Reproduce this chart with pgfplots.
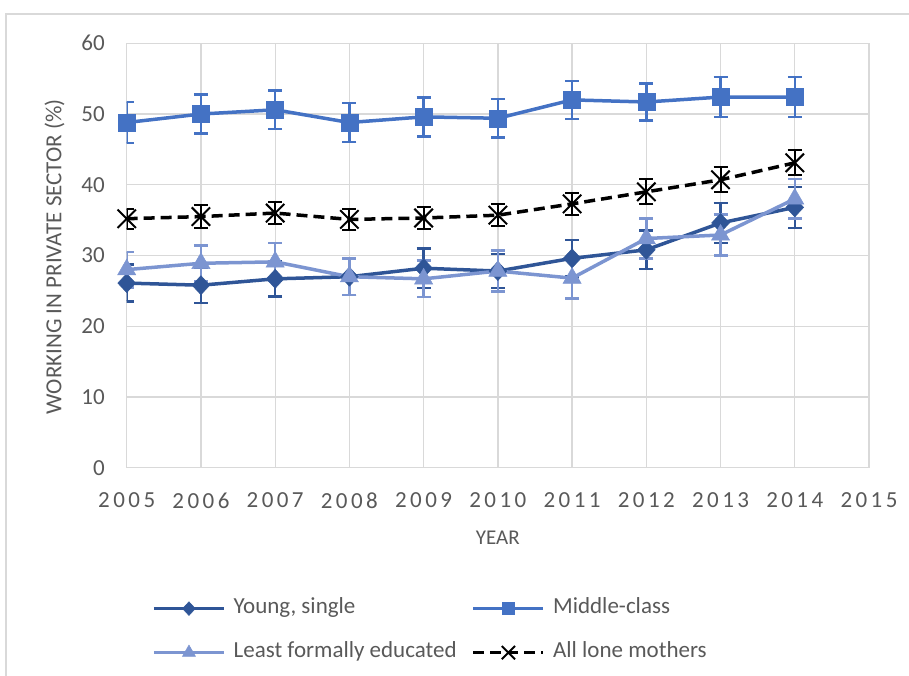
\documentclass[border=0pt]{standalone}
\usepackage{fontspec}
\setmainfont{Carlito}
\usepackage{pgfplots}
\pgfplotsset{compat=1.18}
\definecolor{youngc}{RGB}{47,85,151}
\definecolor{midc}{RGB}{68,114,196}
\definecolor{leastc}{RGB}{124,149,209}
\definecolor{gridgray}{RGB}{217,217,217}
\definecolor{txtgray}{RGB}{89,89,89}
\begin{document}
\begin{tikzpicture}
\useasboundingbox (0,0) rectangle (909pt,676pt);
\draw[gridgray, line width=1.5pt] (6pt,-20pt) rectangle (930pt,662pt);
\begin{axis}[
  at={(126.7pt,208.3pt)}, anchor=south west,
  scale only axis, width=742.3pt, height=424.4pt,
  xmin=2005, xmax=2015, ymin=0, ymax=60,
  xtick={2005,2006,2007,2008,2009,2010,2011,2012,2013,2014,2015},
  xticklabels={2005,2006,2007,2008,2009,2010,2011,2012,2013,2014,2015},
  ytick={0,10,20,30,40,50,60},
  yticklabels={0,10,20,30,40,50,60},
  grid=major, major grid style={draw=gridgray, line width=1.3pt},
  axis line style={draw=none}, tick style={draw=none},
  xticklabel style={font=\fontsize{23}{23}\selectfont\addfontfeature{LetterSpace=15}, text=txtgray, anchor=north, inner sep=0pt, yshift=-25pt},
  yticklabel style={font=\fontsize{23}{23}\selectfont, text=txtgray, anchor=east, inner sep=0pt, xshift=-21.7pt},
  xlabel={YEAR},
  xlabel style={font=\fontsize{21}{21}\selectfont, text=txtgray, at={(axis description cs:0.5,-0.1657)}, anchor=center, inner sep=0pt},
  ylabel={WORKING IN PRIVATE SECTOR (\%)},
  ylabel style={font=\fontsize{23}{23}\selectfont, text=txtgray, at={(axis description cs:-0.0973,0.497)}, anchor=center, inner sep=0pt},
  legend columns=2,
  legend cell align=left,
  legend style={at={(axis description cs:0.0341,-0.308)}, anchor=north west, draw=none, fill=none, inner sep=0pt,
    font=\fontsize{23}{23}\selectfont, text=txtgray, row sep=24pt,
    nodes={inner sep=0pt, text height=15pt, text depth=5pt},
    /tikz/every odd column/.append style={column sep=8pt},
    /tikz/every even column/.append style={column sep=15pt}},
  legend image code/.code={\draw[#1, mark repeat=2, mark phase=2, every mark/.append style={scale=0.72}] plot coordinates {(0pt,0pt) (35pt,0pt) (70pt,0pt)};},
]
% Young, single
\addplot[color=youngc, line width=3.5pt, mark=diamond*, mark size=9.5pt, mark options={solid, fill=youngc, draw=youngc, line width=0.5pt, xscale=1.25},
  error bars/.cd, y dir=both, y explicit, error bar style={line width=2.5pt, color=youngc}, error mark options={rotate=90, mark size=7pt, line width=2.5pt, color=youngc, xscale=1}]
coordinates {
(2005,26.1) +- (0,2.6)
(2006,25.8) +- (0,2.5)
(2007,26.7) +- (0,2.5)
(2008,27.0) +- (0,2.6)
(2009,28.2) +- (0,2.8)
(2010,27.8) +- (0,2.4)
(2011,29.6) +- (0,2.6)
(2012,30.8) +- (0,2.7)
(2013,34.6) +- (0,2.8)
(2014,36.8) +- (0,2.9)
};
\addlegendentry{Young, single}
% Middle-class
\addplot[color=midc, line width=3.5pt, mark=square*, mark size=8.5pt, mark options={solid, fill=midc, draw=midc, line width=0.5pt},
  error bars/.cd, y dir=both, y explicit, error bar style={line width=2.5pt, color=midc}, error mark options={rotate=90, mark size=7pt, line width=2.5pt, color=midc}]
coordinates {
(2005,48.8) +- (0,2.9)
(2006,50.0) +- (0,2.75)
(2007,50.6) +- (0,2.75)
(2008,48.8) +- (0,2.75)
(2009,49.6) +- (0,2.75)
(2010,49.4) +- (0,2.75)
(2011,52.0) +- (0,2.7)
(2012,51.7) +- (0,2.6)
(2013,52.4) +- (0,2.85)
(2014,52.4) +- (0,2.85)
};
\addlegendentry{Middle-class}
% Least formally educated
\addplot[color=leastc, line width=3.5pt, mark=triangle*, mark size=10.5pt, mark options={solid, fill=leastc, draw=leastc, line width=0.5pt},
  error bars/.cd, y dir=both, y explicit, error bar style={line width=2.5pt, color=leastc}, error mark options={rotate=90, mark size=7pt, line width=2.5pt, color=leastc}]
coordinates {
(2005,28.0) +- (0,2.5)
(2006,28.9) +- (0,2.5)
(2007,29.1) +- (0,2.7)
(2008,27.0) +- (0,2.6)
(2009,26.7) +- (0,2.6)
(2010,27.8) +- (0,2.9)
(2011,26.8) +- (0,2.9)
(2012,32.4) +- (0,2.85)
(2013,32.9) +- (0,2.9)
(2014,38.0) +- (0,2.8)
};
\addlegendentry{Least formally educated}
% All lone mothers
\addplot[color=black, line width=3.5pt, dash pattern=on 11pt off 6pt, mark=x, mark size=13pt, mark options={solid, line width=2pt},
  error bars/.cd, y dir=both, y explicit, error bar style={line width=2pt, color=black, solid}, error mark options={rotate=90, mark size=7pt, line width=2pt, color=black, solid}]
coordinates {
(2005,35.2) +- (0,1.4)
(2006,35.5) +- (0,1.6)
(2007,36.0) +- (0,1.5)
(2008,35.1) +- (0,1.5)
(2009,35.3) +- (0,1.5)
(2010,35.7) +- (0,1.6)
(2011,37.3) +- (0,1.6)
(2012,39.0) +- (0,1.75)
(2013,40.7) +- (0,1.75)
(2014,43.1) +- (0,1.75)
};
\addlegendentry{All lone mothers}
\end{axis}
\end{tikzpicture}
\end{document}
